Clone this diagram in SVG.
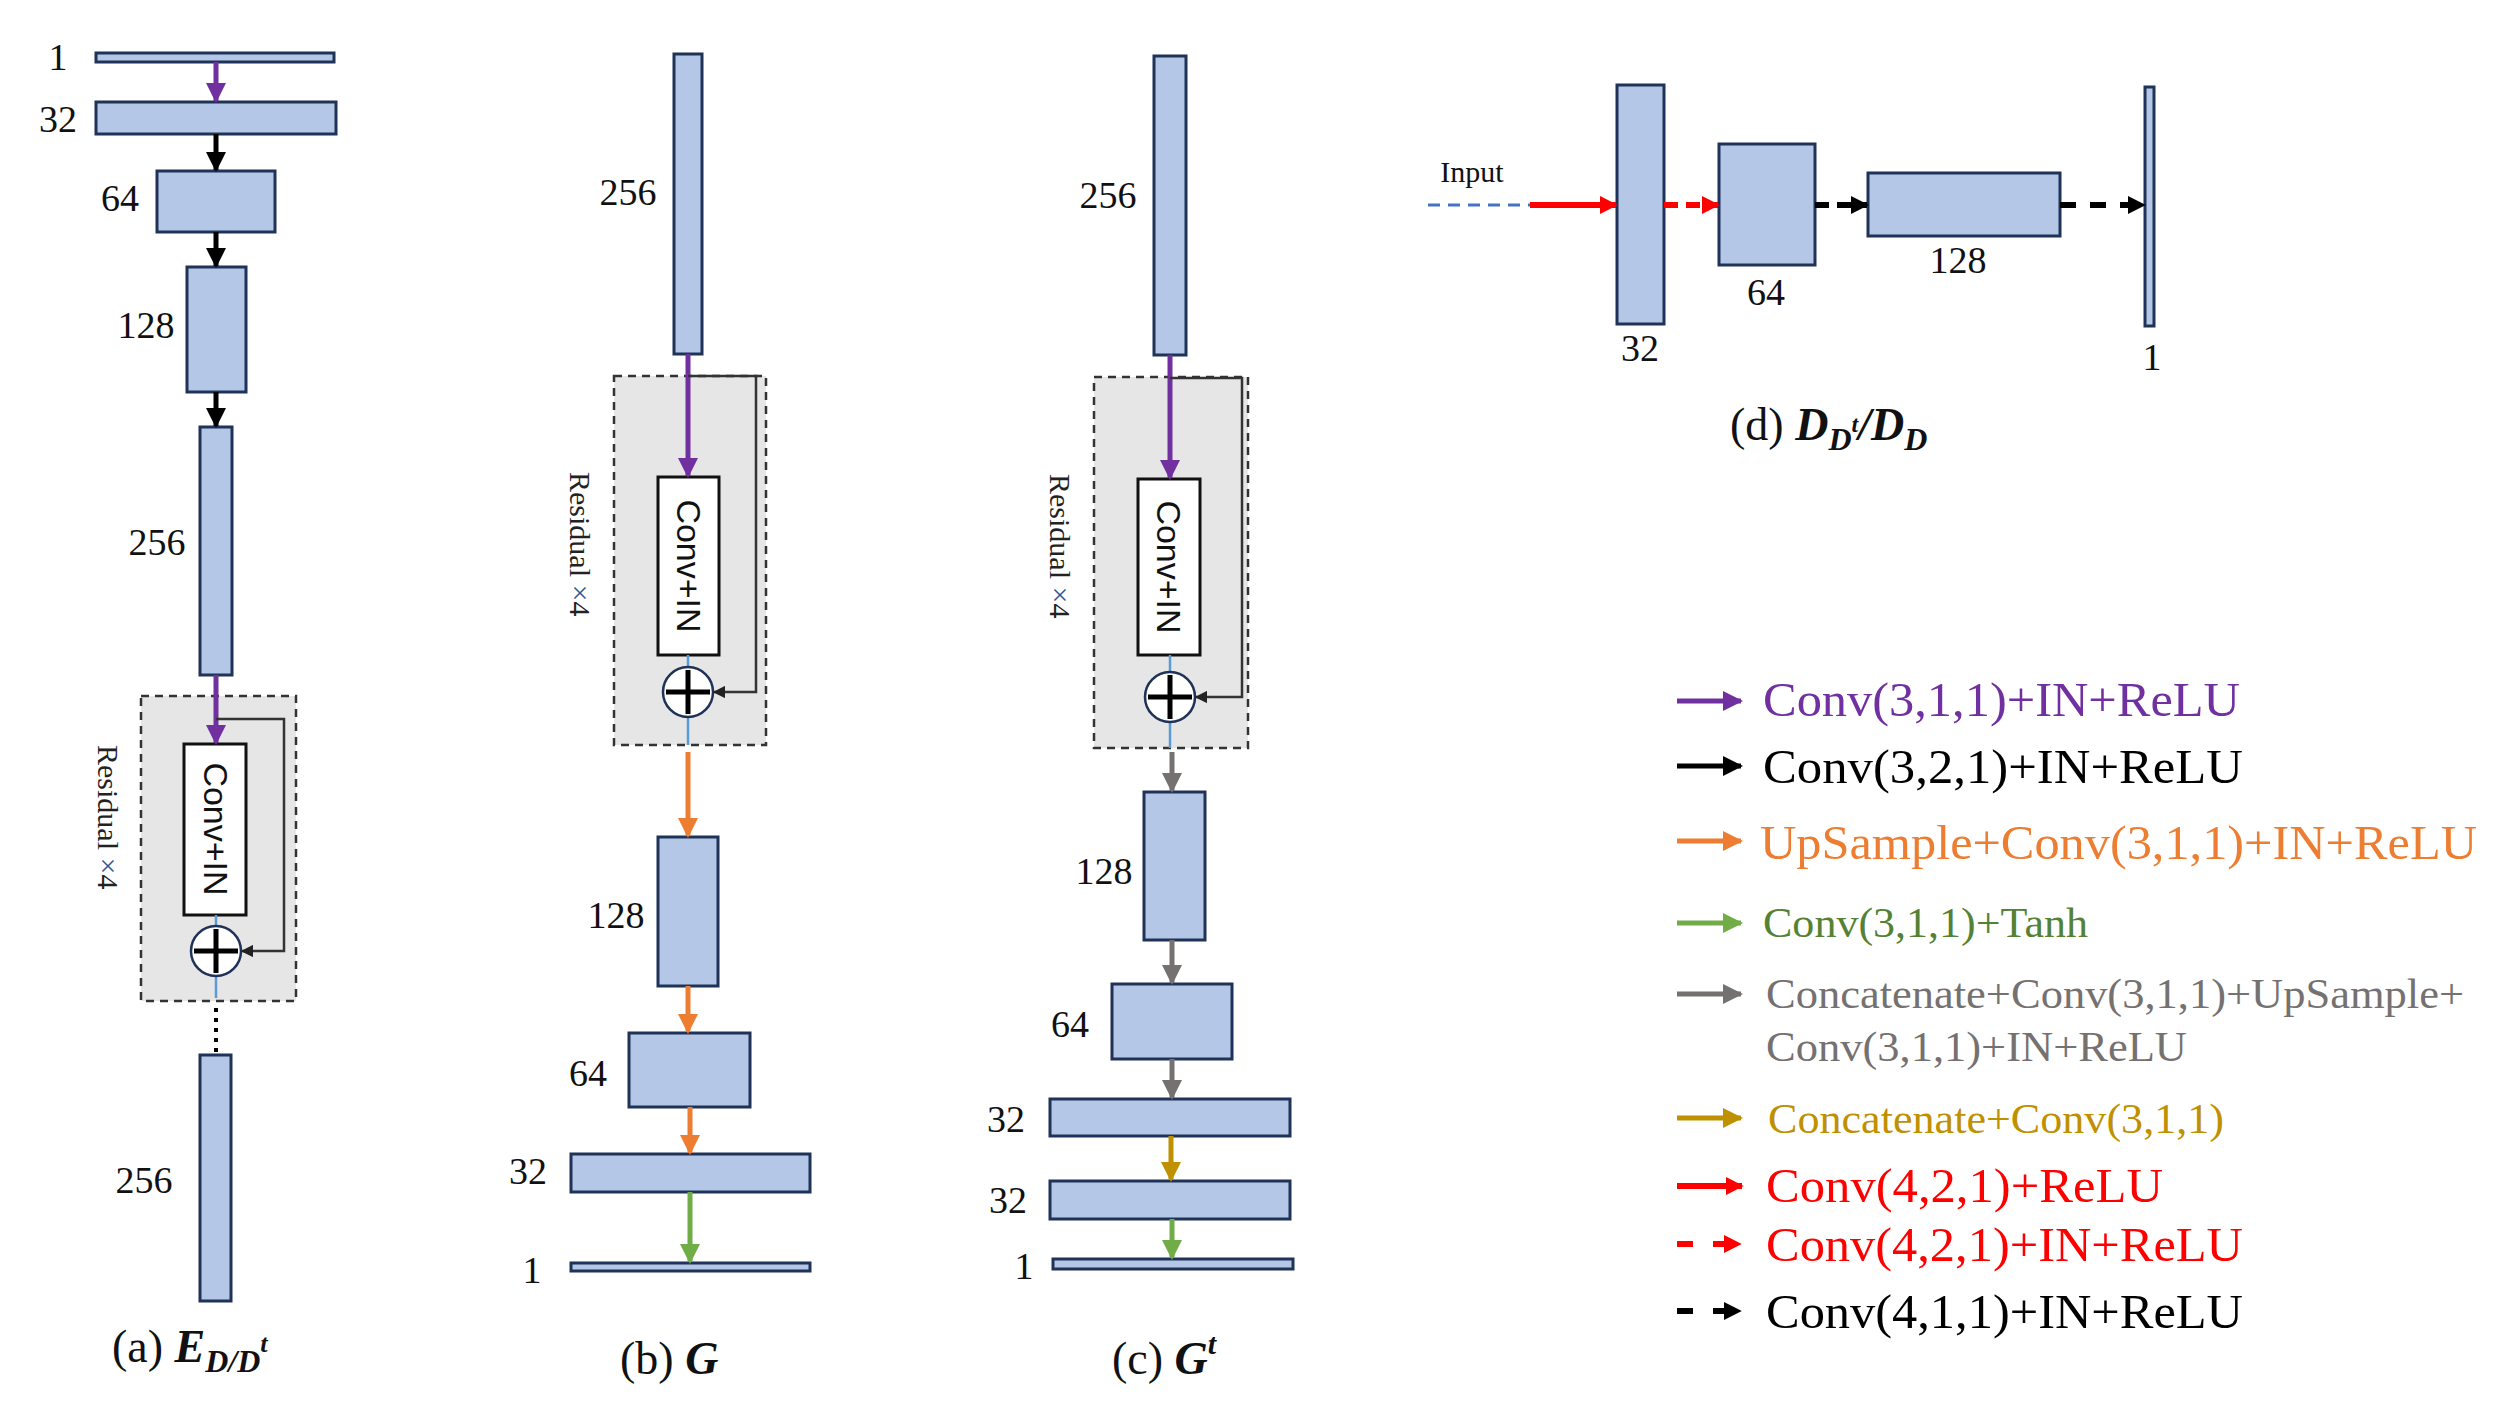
<svg xmlns="http://www.w3.org/2000/svg" width="2499" height="1419" viewBox="0 0 2499 1419">
<style>
.b{fill:#B4C7E7;stroke:#1F3257;stroke-width:3}
.res{fill:#E7E6E6;stroke:#333;stroke-width:2.5;stroke-dasharray:8 6}
.cv{fill:#fff;stroke:#111;stroke-width:3}
.n{font-family:"Liberation Serif",serif;font-size:38px;fill:#111}
.cap{font-family:"Liberation Serif",serif;font-size:46px;fill:#111}
.ci{font-weight:bold;font-style:italic}
.rs{font-family:"Liberation Serif",serif;font-size:30px;fill:#222}
.ct{font-family:"Liberation Sans",sans-serif;font-size:34px;fill:#111}
.lg{font-family:"Liberation Serif",serif;font-size:48px}
.lg2{font-family:"Liberation Serif",serif;font-size:42px}
.a{fill:none;stroke-width:5}
.bl{stroke:#5B9BD5;stroke-width:2.5}
</style>
<defs>
<marker id="mp" viewBox="0 0 10 10" refX="9" refY="5" markerWidth="4" markerHeight="4" orient="auto" markerUnits="strokeWidth"><path d="M0,0L10,5L0,10z" fill="#7030A0"/></marker>
<marker id="mk" viewBox="0 0 10 10" refX="9" refY="5" markerWidth="4" markerHeight="4" orient="auto" markerUnits="strokeWidth"><path d="M0,0L10,5L0,10z" fill="#000"/></marker>
<marker id="mo" viewBox="0 0 10 10" refX="9" refY="5" markerWidth="4" markerHeight="4" orient="auto" markerUnits="strokeWidth"><path d="M0,0L10,5L0,10z" fill="#ED7D31"/></marker>
<marker id="mg" viewBox="0 0 10 10" refX="9" refY="5" markerWidth="4" markerHeight="4" orient="auto" markerUnits="strokeWidth"><path d="M0,0L10,5L0,10z" fill="#70AD47"/></marker>
<marker id="my" viewBox="0 0 10 10" refX="9" refY="5" markerWidth="4" markerHeight="4" orient="auto" markerUnits="strokeWidth"><path d="M0,0L10,5L0,10z" fill="#767171"/></marker>
<marker id="mu" viewBox="0 0 10 10" refX="9" refY="5" markerWidth="4" markerHeight="4" orient="auto" markerUnits="strokeWidth"><path d="M0,0L10,5L0,10z" fill="#BF9000"/></marker>
<marker id="mr" viewBox="0 0 10 10" refX="9" refY="5" markerWidth="3" markerHeight="3" orient="auto" markerUnits="strokeWidth"><path d="M0,0L10,5L0,10z" fill="#FF0000"/></marker>
<marker id="mk2" viewBox="0 0 10 10" refX="9" refY="5" markerWidth="3" markerHeight="3" orient="auto" markerUnits="strokeWidth"><path d="M0,0L10,5L0,10z" fill="#000"/></marker>
<marker id="ms" viewBox="0 0 10 10" refX="9" refY="5" markerWidth="5" markerHeight="5" orient="auto" markerUnits="strokeWidth"><path d="M0,0L10,5L0,10z" fill="#222"/></marker>
</defs>

<!-- Panel a -->
<g id="a1"><rect class="b" x="96" y="53" width="238" height="9"/><text class="n" x="58" y="70" text-anchor="middle">1</text></g>
<g id="a32"><rect class="b" x="96" y="102" width="240" height="32"/><text class="n" x="58" y="132" text-anchor="middle">32</text></g>
<g id="a64"><rect class="b" x="157" y="171" width="118" height="61"/><text class="n" x="120" y="211" text-anchor="middle">64</text></g>
<g id="a128"><rect class="b" x="187" y="267" width="59" height="125"/><text class="n" x="146" y="338" text-anchor="middle">128</text></g>
<g id="a256"><rect class="b" x="200" y="427" width="32" height="248"/><text class="n" x="157" y="555" text-anchor="middle">256</text></g>
<g id="ares">
<rect class="res" x="141" y="696" width="155" height="305"/>
<rect class="cv" x="184" y="744" width="62" height="171"/>
<text class="ct" transform="translate(204,829) rotate(90)" text-anchor="middle">Conv+IN</text>
<text class="rs" transform="translate(98,745) rotate(90)">Residual  <tspan fill="#2F5597">×</tspan>4</text>
<line class="bl" x1="216" y1="915" x2="216" y2="926"/><line class="bl" x1="216" y1="977" x2="216" y2="998"/>
<circle cx="216" cy="951" r="25" fill="#fff" stroke="#1F3257" stroke-width="2.5"/>
<path d="M216,929V973M194,951H238" stroke="#000" stroke-width="5"/>
</g>
<g id="a256b"><rect class="b" x="200" y="1055" width="31" height="246"/><text class="n" x="144" y="1193" text-anchor="middle">256</text></g>
<text class="cap" x="112" y="1362">(a) <tspan class="ci">E</tspan><tspan class="ci" font-size="32" dy="10">D/D</tspan><tspan class="ci" font-size="26" dy="-20">t</tspan></text>

<!-- Panel b -->
<g id="b256"><rect class="b" x="674" y="54" width="28" height="300"/><text class="n" x="628" y="205" text-anchor="middle">256</text></g>
<g id="bres">
<rect class="res" x="614" y="376" width="152" height="369"/>
<rect class="cv" x="658" y="477" width="61" height="178"/>
<text class="ct" transform="translate(677,566) rotate(90)" text-anchor="middle">Conv+IN</text>
<text class="rs" transform="translate(570,472) rotate(90)">Residual  <tspan fill="#2F5597">×</tspan>4</text>
<line class="bl" x1="688" y1="655" x2="688" y2="667"/><line class="bl" x1="688" y1="717" x2="688" y2="745"/>
<circle cx="688" cy="692" r="25" fill="#fff" stroke="#1F3257" stroke-width="2.5"/>
<path d="M688,670V714M666,692H710" stroke="#000" stroke-width="5"/>
</g>
<g id="b128"><rect class="b" x="658" y="837" width="60" height="149"/><text class="n" x="616" y="928" text-anchor="middle">128</text></g>
<g id="b64"><rect class="b" x="629" y="1033" width="121" height="74"/><text class="n" x="588" y="1086" text-anchor="middle">64</text></g>
<g id="b32"><rect class="b" x="571" y="1154" width="239" height="38"/><text class="n" x="528" y="1184" text-anchor="middle">32</text></g>
<g id="b1"><rect class="b" x="571" y="1263" width="239" height="8"/><text class="n" x="532" y="1283" text-anchor="middle">1</text></g>
<text class="cap" x="620" y="1374">(b) <tspan class="ci">G</tspan></text>

<!-- Panel c -->
<g id="c256"><rect class="b" x="1154" y="56" width="32" height="299"/><text class="n" x="1108" y="208" text-anchor="middle">256</text></g>
<g id="cres">
<rect class="res" x="1094" y="377" width="154" height="371"/>
<rect class="cv" x="1138" y="479" width="62" height="176"/>
<text class="ct" transform="translate(1157,567) rotate(90)" text-anchor="middle">Conv+IN</text>
<text class="rs" transform="translate(1050,474) rotate(90)">Residual  <tspan fill="#2F5597">×</tspan>4</text>
<line class="bl" x1="1170" y1="655" x2="1170" y2="672"/><line class="bl" x1="1170" y1="722" x2="1170" y2="748"/>
<circle cx="1170" cy="697" r="25" fill="#fff" stroke="#1F3257" stroke-width="2.5"/>
<path d="M1170,675V719M1148,697H1192" stroke="#000" stroke-width="5"/>
</g>
<g id="c128"><rect class="b" x="1144" y="792" width="61" height="148"/><text class="n" x="1104" y="884" text-anchor="middle">128</text></g>
<g id="c64"><rect class="b" x="1112" y="984" width="120" height="75"/><text class="n" x="1070" y="1037" text-anchor="middle">64</text></g>
<g id="c32a"><rect class="b" x="1050" y="1099" width="240" height="37"/><text class="n" x="1006" y="1132" text-anchor="middle">32</text></g>
<g id="c32b"><rect class="b" x="1050" y="1181" width="240" height="38"/><text class="n" x="1008" y="1213" text-anchor="middle">32</text></g>
<g id="c1"><rect class="b" x="1053" y="1259" width="240" height="10"/><text class="n" x="1024" y="1279" text-anchor="middle">1</text></g>
<text class="cap" x="1112" y="1374">(c) <tspan class="ci">G</tspan><tspan class="ci" font-size="30" dy="-20">t</tspan></text>

<!-- Panel d -->
<g id="d32"><rect class="b" x="1617" y="85" width="47" height="239"/><text class="n" x="1640" y="361" text-anchor="middle">32</text></g>
<g id="d64"><rect class="b" x="1719" y="144" width="96" height="121"/><text class="n" x="1766" y="305" text-anchor="middle">64</text></g>
<g id="d128"><rect class="b" x="1868" y="173" width="192" height="63"/><text class="n" x="1958" y="273" text-anchor="middle">128</text></g>
<g id="d1"><rect class="b" x="2145" y="87" width="9" height="239"/><text class="n" x="2152" y="370" text-anchor="middle">1</text></g>
<text x="1472" y="182" text-anchor="middle" font-family="Liberation Serif,serif" font-size="30" fill="#111">Input</text>
<text class="cap" x="1730" y="440">(d) <tspan class="ci">D</tspan><tspan class="ci" font-size="32" dy="10">D</tspan><tspan class="ci" font-size="24" dy="-18">t</tspan><tspan class="ci" dy="8">/D</tspan><tspan class="ci" font-size="32" dy="10">D</tspan></text>

<!-- Connectors -->
<g id="connectors">
<line class="a" x1="216" y1="62" x2="216" y2="101" stroke="#7030A0" marker-end="url(#mp)"/>
<line class="a" x1="216" y1="134" x2="216" y2="170" stroke="#000" marker-end="url(#mk)"/>
<line class="a" x1="216" y1="232" x2="216" y2="266" stroke="#000" marker-end="url(#mk)"/>
<line class="a" x1="216" y1="392" x2="216" y2="426" stroke="#000" marker-end="url(#mk)"/>
<line class="a" x1="216" y1="675" x2="216" y2="743" stroke="#7030A0" marker-end="url(#mp)"/>
<path d="M216,719H284V951H242" fill="none" stroke="#333" stroke-width="2.5" marker-end="url(#ms)"/>
<line x1="216" y1="1008" x2="216" y2="1052" stroke="#000" stroke-width="4" stroke-dasharray="4 6"/>

<line class="a" x1="688" y1="354" x2="688" y2="476" stroke="#7030A0" marker-end="url(#mp)"/>
<path d="M688,376H756V692H714" fill="none" stroke="#333" stroke-width="2.5" marker-end="url(#ms)"/>
<line class="a" x1="688" y1="752" x2="688" y2="836" stroke="#ED7D31" marker-end="url(#mo)"/>
<line class="a" x1="688" y1="986" x2="688" y2="1032" stroke="#ED7D31" marker-end="url(#mo)"/>
<line class="a" x1="690" y1="1107" x2="690" y2="1153" stroke="#ED7D31" marker-end="url(#mo)"/>
<line class="a" x1="690" y1="1192" x2="690" y2="1262" stroke="#70AD47" marker-end="url(#mg)"/>

<line class="a" x1="1170" y1="355" x2="1170" y2="478" stroke="#7030A0" marker-end="url(#mp)"/>
<path d="M1170,378H1242V697H1196" fill="none" stroke="#333" stroke-width="2.5" marker-end="url(#ms)"/>
<line class="a" x1="1172" y1="752" x2="1172" y2="791" stroke="#767171" marker-end="url(#my)"/>
<line class="a" x1="1172" y1="940" x2="1172" y2="983" stroke="#767171" marker-end="url(#my)"/>
<line class="a" x1="1172" y1="1059" x2="1172" y2="1098" stroke="#767171" marker-end="url(#my)"/>
<line class="a" x1="1171" y1="1136" x2="1171" y2="1180" stroke="#BF9000" marker-end="url(#mu)"/>
<line class="a" x1="1172" y1="1219" x2="1172" y2="1258" stroke="#70AD47" marker-end="url(#mg)"/>

<line x1="1428" y1="205" x2="1530" y2="205" stroke="#4472C4" stroke-width="3" stroke-dasharray="12 8"/>
<line x1="1530" y1="205" x2="1616" y2="205" stroke="#FF0000" stroke-width="6" marker-end="url(#mr)"/>
<line x1="1664" y1="205" x2="1718" y2="205" stroke="#FF0000" stroke-width="6" stroke-dasharray="14 8" marker-end="url(#mr)"/>
<line x1="1815" y1="205" x2="1867" y2="205" stroke="#000" stroke-width="6" stroke-dasharray="14 8" marker-end="url(#mk2)"/>
<line x1="2060" y1="205" x2="2144" y2="205" stroke="#000" stroke-width="6" stroke-dasharray="16 14" marker-end="url(#mk2)"/>
</g>

<!-- Legend -->
<g id="legend">
<line class="a" x1="1677" y1="701" x2="1741" y2="701" stroke="#7030A0" marker-end="url(#mp)"/>
<text class="lg" x="1763" y="716" fill="#7030A0" textLength="477" lengthAdjust="spacingAndGlyphs">Conv(3,1,1)+IN+ReLU</text>
<line class="a" x1="1677" y1="766" x2="1741" y2="766" stroke="#000" marker-end="url(#mk)"/>
<text class="lg" x="1763" y="783" fill="#000" textLength="480" lengthAdjust="spacingAndGlyphs">Conv(3,2,1)+IN+ReLU</text>
<line class="a" x1="1677" y1="841" x2="1741" y2="841" stroke="#ED7D31" marker-end="url(#mo)"/>
<text class="lg" x="1760" y="859" fill="#ED7D31" textLength="717" lengthAdjust="spacingAndGlyphs">UpSample+Conv(3,1,1)+IN+ReLU</text>
<line class="a" x1="1677" y1="923" x2="1741" y2="923" stroke="#70AD47" marker-end="url(#mg)"/>
<text class="lg2" x="1763" y="937" fill="#548235" textLength="325" lengthAdjust="spacingAndGlyphs">Conv(3,1,1)+Tanh</text>
<line class="a" x1="1677" y1="994" x2="1741" y2="994" stroke="#767171" marker-end="url(#my)"/>
<text class="lg2" x="1766" y="1008" fill="#767171" textLength="698" lengthAdjust="spacingAndGlyphs">Concatenate+Conv(3,1,1)+UpSample+</text>
<text class="lg2" x="1766" y="1061" fill="#767171" textLength="421" lengthAdjust="spacingAndGlyphs">Conv(3,1,1)+IN+ReLU</text>
<line class="a" x1="1677" y1="1118" x2="1741" y2="1118" stroke="#BF9000" marker-end="url(#mu)"/>
<text class="lg2" x="1768" y="1133" fill="#BF9000" textLength="456" lengthAdjust="spacingAndGlyphs">Concatenate+Conv(3,1,1)</text>
<line x1="1677" y1="1186" x2="1742" y2="1186" stroke="#FF0000" stroke-width="6" marker-end="url(#mr)"/>
<text class="lg" x="1766" y="1202" fill="#FF0000" textLength="397" lengthAdjust="spacingAndGlyphs">Conv(4,2,1)+ReLU</text>
<line x1="1677" y1="1244" x2="1740" y2="1244" stroke="#FF0000" stroke-width="6" stroke-dasharray="16 20" marker-end="url(#mr)"/>
<text class="lg" x="1766" y="1261" fill="#FF0000" textLength="477" lengthAdjust="spacingAndGlyphs">Conv(4,2,1)+IN+ReLU</text>
<line x1="1677" y1="1311" x2="1740" y2="1311" stroke="#000" stroke-width="6" stroke-dasharray="16 20" marker-end="url(#mk2)"/>
<text class="lg" x="1766" y="1328" fill="#000" textLength="477" lengthAdjust="spacingAndGlyphs">Conv(4,1,1)+IN+ReLU</text>
</g>
</svg>
